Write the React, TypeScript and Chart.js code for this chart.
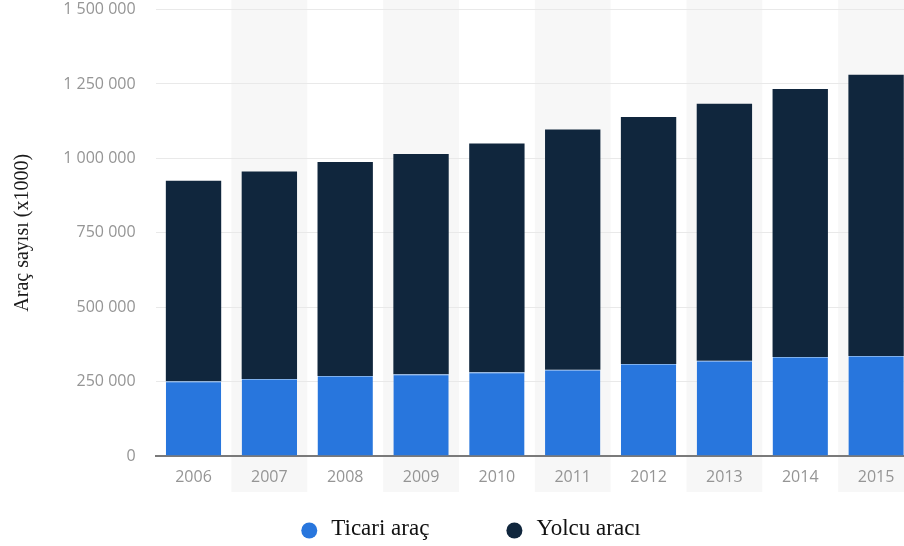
import React, { useEffect, useRef } from "react";
import { Chart, registerables } from "chart.js";

Chart.register(...registerables);

const years = ["2006", "2007", "2008", "2009", "2010", "2011", "2012", "2013", "2014", "2015"];
const ticariArac = [251000, 259000, 269000, 275000, 281000, 290000, 309000, 320000, 333000, 336000];
const yolcuAraci = [674000, 697000, 719000, 740000, 769000, 807000, 830000, 864000, 900000, 945000];
const seriesLabels = ["Ticari araç", "Yolcu aracı"];
const seriesColors = ["#2876dd", "#10263d"];
const yTitle = "Araç sayısı (x1000)";
const yMax = 1500000;
const yStep = 250000;

const fmt = (v: number) => String(v).replace(/\B(?=(\d{3})+(?!\d))/g, " ");

const bandPlugin = {
  id: "bands",
  beforeDraw(chart: any) {
    const x = chart.scales.x;
    if (!x) return;
    const ctx = chart.ctx;
    const half = (x.getPixelForValue(1) - x.getPixelForValue(0)) / 2;
    ctx.save();
    ctx.fillStyle = "#f7f7f7";
    for (let i = 1; i < years.length; i += 2) {
      const c = x.getPixelForValue(i);
      ctx.fillRect(c - half, 0, half * 2, 492);
    }
    ctx.restore();
  },
};

const legendPlugin = {
  id: "customLegend",
  afterDraw(chart: any) {
    const ctx = chart.ctx;
    ctx.save();
    ctx.font = '23px "Liberation Serif", "Times New Roman", serif';
    const items = chart.data.datasets.map((ds: any) => ({
      label: ds.label,
      color: ds.backgroundColor,
      w: ctx.measureText(ds.label).width,
    }));
    const r = 8;
    const textGap = 22;
    const itemGap = 85;
    let total = r;
    items.forEach((it: any, i: number) => {
      total += textGap + it.w;
      if (i < items.length - 1) total += itemGap;
    });
    const centerX = chart.width / 2 + 14;
    let cx = centerX - total / 2 + r;
    const dotY = chart.height - 15.5;
    const textY = chart.height - 11;
    items.forEach((it: any) => {
      ctx.beginPath();
      ctx.fillStyle = it.color;
      ctx.arc(cx, dotY, r, 0, Math.PI * 2);
      ctx.fill();
      ctx.fillStyle = "#111";
      ctx.textAlign = "left";
      ctx.textBaseline = "alphabetic";
      ctx.fillText(it.label, cx + textGap, textY);
      cx = cx + textGap + it.w + itemGap;
    });
    ctx.restore();
  },
};

export default function App() {
  const ref = useRef<HTMLCanvasElement>(null);

  useEffect(() => {
    if (!ref.current) return;
    const chart = new Chart(ref.current, {
      type: "bar",
      data: {
        labels: years,
        datasets: [
          {
            label: seriesLabels[0],
            data: ticariArac,
            backgroundColor: seriesColors[0],
            borderColor: "#7eb0ee",
            borderWidth: { top: 1, right: 0, bottom: 0, left: 0 },
            borderSkipped: false,
            categoryPercentage: 1,
            barPercentage: 0.73,
          },
          {
            label: seriesLabels[1],
            data: yolcuAraci,
            backgroundColor: seriesColors[1],
            borderWidth: 0,
            categoryPercentage: 1,
            barPercentage: 0.73,
          },
        ],
      },
      options: {
        animation: false,
        responsive: true,
        maintainAspectRatio: false,
        layout: { padding: { left: 0, right: 0, top: 0, bottom: 59 } },
        plugins: {
          legend: { display: false },
          tooltip: { enabled: false },
        },
        scales: {
          x: {
            stacked: true,
            afterFit: (scale: any) => {
              scale.height = 31;
            },
            grid: { display: false, drawTicks: false },
            border: { display: true, color: "#7a7a7a", width: 2 },
            ticks: {
              color: "#959595",
              padding: 12,
              font: { family: '"Open Sans", sans-serif', size: 16 },
            },
          },
          y: {
            stacked: true,
            min: 0,
            max: yMax,
            afterFit: (scale: any) => {
              scale.width = 155.6;
            },
            grid: {
              color: "#e9e9e9",
              lineWidth: 1,
              drawTicks: true,
              tickLength: 20,
              tickColor: "rgba(0,0,0,0)",
            },
            border: { display: false },
            ticks: {
              stepSize: yStep,
              color: "#959595",
              padding: 0,
              font: { family: '"Open Sans", sans-serif', size: 16 },
              callback: (v: any) => fmt(Number(v)),
            },
            title: {
              display: true,
              text: yTitle,
              color: "#1a1a1a",
              padding: { top: 11, bottom: 0 },
              font: { family: '"Liberation Serif", "Times New Roman", serif', size: 20 },
            },
          },
        },
      },
      plugins: [bandPlugin, legendPlugin],
    });
    return () => chart.destroy();
  }, []);

  return (
    <div style={{ position: "absolute", left: 0, top: 0, width: 904, height: 546, overflow: "hidden", background: "#fff" }}>
      <div style={{ position: "relative", width: 914, height: 546 }}>
        <canvas ref={ref} />
      </div>
    </div>
  );
}
